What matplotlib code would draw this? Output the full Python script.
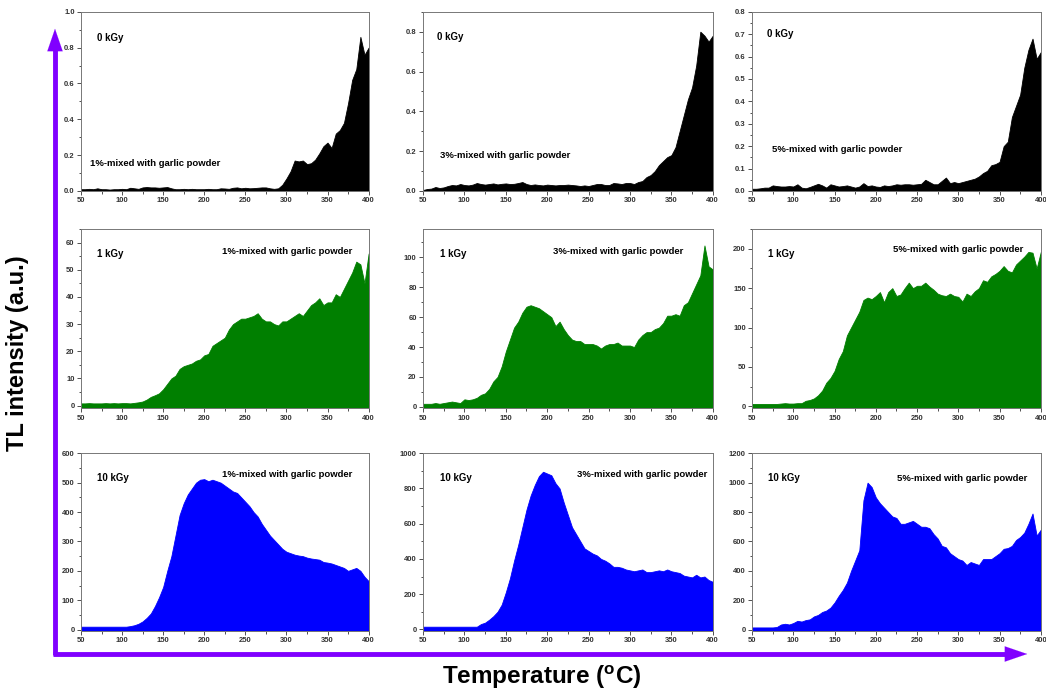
import numpy as np
import matplotlib.pyplot as plt
from matplotlib.ticker import MultipleLocator

plt.rcParams['font.family'] = ['Liberation Sans', 'DejaVu Sans']

# temperature grid (deg C)
temp = np.arange(50, 401, 5)

# 0 kGy rows
tl_0kgy_1 = [0.01, 0.01, 0.012, 0.01, 0.015, 0.01, 0.01, 0.008, 0.01, 0.01, 0.012, 0.01, 0.018, 0.015,
             0.012, 0.02, 0.022, 0.02, 0.02, 0.018, 0.02, 0.022, 0.015, 0.01, 0.01, 0.012, 0.01, 0.012,
             0.01, 0.01, 0.01, 0.012, 0.01, 0.01, 0.015, 0.014, 0.012, 0.018, 0.02, 0.015, 0.018, 0.015,
             0.016, 0.018, 0.02, 0.02, 0.015, 0.012, 0.015, 0.035, 0.07, 0.11, 0.17, 0.165, 0.17, 0.15,
             0.155, 0.175, 0.21, 0.25, 0.27, 0.24, 0.32, 0.34, 0.38, 0.49, 0.62, 0.68, 0.86, 0.76, 0.8]
tl_0kgy_3 = [0.005, 0.01, 0.012, 0.02, 0.015, 0.018, 0.025, 0.03, 0.028, 0.035, 0.03, 0.028, 0.032, 0.04,
             0.035, 0.032, 0.035, 0.038, 0.033, 0.036, 0.038, 0.035, 0.036, 0.04, 0.045, 0.035, 0.03, 0.033,
             0.03, 0.028, 0.032, 0.03, 0.028, 0.03, 0.03, 0.032, 0.03, 0.028, 0.025, 0.028, 0.025, 0.03,
             0.035, 0.035, 0.03, 0.03, 0.04, 0.038, 0.035, 0.04, 0.04, 0.035, 0.045, 0.05, 0.07, 0.08,
             0.1, 0.13, 0.15, 0.17, 0.18, 0.22, 0.3, 0.38, 0.46, 0.52, 0.63, 0.8, 0.78, 0.75, 0.78]
tl_0kgy_5 = [0.01, 0.01, 0.012, 0.015, 0.015, 0.025, 0.022, 0.02, 0.02, 0.022, 0.02, 0.03, 0.015, 0.012,
             0.018, 0.025, 0.032, 0.025, 0.015, 0.03, 0.025, 0.02, 0.022, 0.025, 0.02, 0.015, 0.02, 0.035,
             0.022, 0.025, 0.02, 0.018, 0.025, 0.022, 0.025, 0.03, 0.028, 0.03, 0.03, 0.028, 0.03, 0.032,
             0.05, 0.04, 0.03, 0.03, 0.045, 0.06, 0.035, 0.04, 0.035, 0.04, 0.045, 0.05, 0.055, 0.065,
             0.08, 0.09, 0.115, 0.12, 0.13, 0.2, 0.22, 0.33, 0.38, 0.43, 0.55, 0.63, 0.68, 0.59, 0.62]

# 1 kGy rows
tl_1kgy_1 = [0.8, 0.8, 0.9, 0.8, 0.8, 0.8, 0.9, 0.8, 0.9, 0.8, 0.9, 0.9, 0.8, 1.0, 1.2, 1.5, 2.2, 3.2,
             3.8, 4.5, 6.0, 8.0, 10, 11, 13.5, 14.5, 15, 15.5, 16.5, 17, 18.5, 19, 22, 23, 24, 25, 28, 30,
             31, 32, 32, 32.5, 33, 34, 32, 31, 31, 30, 29.5, 31, 31, 32, 33, 34, 33, 35, 37, 38, 39.5, 37,
             38, 38, 41, 40, 43, 46, 49, 53, 52, 45, 56]
tl_1kgy_3 = [2, 2, 2, 2.5, 2, 2.5, 3, 3.5, 3, 2.5, 5, 4.5, 5, 6, 8, 9, 12, 17, 20, 27, 37, 45, 53, 57,
             63, 67, 68, 67, 66, 64, 62, 60, 54, 57, 52, 48, 45, 44, 44, 42, 42, 42, 41, 39, 41, 42, 42,
             43, 41, 41, 41, 40, 45, 48, 50, 50, 52, 53, 56, 61, 61, 62, 61, 68, 70, 76, 82, 88, 108, 94, 92]
tl_1kgy_5 = [3, 3, 3, 3, 3, 3, 3, 3.5, 4, 3.5, 3.5, 4, 4, 7, 8, 10, 14, 20, 30, 36, 45, 60, 70, 90, 100,
             110, 120, 135, 138, 136, 140, 145, 132, 145, 150, 140, 142, 150, 157, 150, 153, 153, 157,
             152, 148, 143, 141, 140, 143, 140, 139, 133, 143, 140, 146, 150, 160, 158, 165, 168, 172,
             178, 172, 170, 180, 185, 190, 196, 195, 175, 196]

# 10 kGy rows
tl_10kgy_1 = [10, 10, 10, 10, 10, 10, 10, 10, 10, 10, 10, 10, 12, 15, 20, 28, 40, 55, 80, 110, 145, 200,
              250, 320, 390, 430, 460, 480, 500, 510, 512, 505, 510, 505, 500, 490, 480, 470, 465, 450,
              435, 420, 400, 385, 360, 340, 320, 305, 290, 275, 265, 260, 255, 252, 250, 245, 242, 240,
              238, 230, 228, 225, 220, 215, 210, 200, 205, 210, 200, 180, 165]
tl_10kgy_3 = [15, 15, 15, 15, 15, 15, 15, 15, 15, 15, 15, 15, 15, 15, 30, 38, 55, 75, 100, 140, 210, 290,
              390, 480, 580, 680, 760, 820, 870, 895, 885, 875, 830, 800, 720, 650, 580, 540, 500, 460,
              445, 430, 420, 400, 390, 375, 355, 355, 350, 340, 335, 330, 335, 340, 325, 325, 330, 335,
              330, 340, 330, 325, 320, 305, 300, 295, 310, 295, 300, 280, 270]
tl_10kgy_5 = [15, 15, 15, 15, 15, 15, 18, 35, 40, 35, 45, 60, 55, 65, 70, 90, 100, 120, 130, 150, 185,
              230, 270, 320, 400, 470, 540, 880, 1000, 970, 900, 860, 830, 800, 770, 760, 720, 720, 730,
              740, 720, 700, 700, 690, 650, 620, 570, 560, 520, 500, 480, 470, 440, 460, 450, 440, 480,
              480, 480, 500, 520, 550, 555, 570, 610, 630, 660, 720, 790, 640, 680]

series = [[tl_0kgy_1, tl_0kgy_3, tl_0kgy_5],
          [tl_1kgy_1, tl_1kgy_3, tl_1kgy_5],
          [tl_10kgy_1, tl_10kgy_3, tl_10kgy_5]]
doses = ['0 kGy', '1 kGy', '10 kGy']
mixes = ['1%-mixed with garlic powder', '3%-mixed with garlic powder', '5%-mixed with garlic powder']
row_colors = ['black', '#007f00', '#0000ff']

ylims = [[(0, 1.0), (0, 0.9), (0, 0.8)],
         [(-1, 65), (-1, 119), (-2.5, 225)],
         [(-5, 600), (-10, 1000), (-10, 1200)]]
yticks = [[(0.2, 0.1), (0.2, 0.1), (0.1, 0.05)],
          [(10, 5), (20, 10), (50, 25)],
          [(100, 50), (200, 100), (200, 100)]]

# label positions (axes fraction)
dose_pos = [[(0.055, 0.855), (0.048, 0.86), (0.052, 0.876)],
            [(0.055, 0.86), (0.059, 0.86), (0.055, 0.86)],
            [(0.055, 0.86), (0.059, 0.86), (0.055, 0.86)]]
mix_pos = [[(0.03, 0.156, 'left'), (0.059, 0.20, 'left'), (0.069, 0.23, 'left')],
           [(0.944, 0.877, 'right'), (0.90, 0.877, 'right'), (0.94, 0.885, 'right')],
           [(0.944, 0.88, 'right'), (0.98, 0.88, 'right'), (0.955, 0.86, 'right')]]

fig = plt.figure(figsize=(10.46, 6.92), dpi=100)

lefts = [0.0774, 0.4044, 0.719]
widths = [0.275, 0.277, 0.276]
bottoms = [0.724, 0.410, 0.088]
heights = [0.259, 0.259, 0.257]

# purple arrows on a full-figure overlay (pixel coordinates)
over = fig.add_axes([0, 0, 1, 1])
over.set_xlim(0, 1046)
over.set_ylim(692, 0)
over.axis('off')
purple = '#8000ff'
over.plot([55, 55], [655, 45], color=purple, lw=3.5, solid_capstyle='butt')
over.plot([53, 1010], [654, 654], color=purple, lw=3.5, solid_capstyle='butt')
over.annotate('', xy=(55, 26), xytext=(55, 50),
              arrowprops=dict(arrowstyle='-|>,head_length=1.6,head_width=0.55', color=purple, lw=0.1))
over.annotate('', xy=(1030, 654), xytext=(1005, 654),
              arrowprops=dict(arrowstyle='-|>,head_length=1.6,head_width=0.55', color=purple, lw=0.1))

for r in range(3):
    for c in range(3):
        ax = fig.add_axes([lefts[c], bottoms[r], widths[c], heights[r]])
        lo, hi = ylims[r][c]
        ax.fill_between(temp, series[r][c], lo, color=row_colors[r], lw=0.6)
        ax.set_xlim(50, 400)
        ax.set_ylim(lo, hi)
        ax.xaxis.set_major_locator(MultipleLocator(50))
        ax.xaxis.set_minor_locator(MultipleLocator(25))
        ax.yaxis.set_major_locator(MultipleLocator(yticks[r][c][0]))
        ax.yaxis.set_minor_locator(MultipleLocator(yticks[r][c][1]))
        ax.tick_params(which='both', direction='out', labelsize=5.5, colors='#333333',
                       width=0.6, pad=1.5)
        ax.tick_params(which='major', length=3)
        ax.tick_params(which='minor', length=1.8)
        for lab in ax.get_xticklabels() + ax.get_yticklabels():
            lab.set_fontweight('bold')
        for sp in ax.spines.values():
            sp.set_color('#777777')
            sp.set_linewidth(0.7)
        dx, dy = dose_pos[r][c]
        ax.text(dx, dy, doses[r], transform=ax.transAxes, fontsize=7, fontweight='bold',
                ha='left', va='center')
        mx, my, ha = mix_pos[r][c]
        ax.text(mx, my, mixes[c], transform=ax.transAxes, fontsize=6.8, fontweight='bold',
                ha=ha, va='center')

fig.text(0.017, 0.49, 'TL intensity (a.u.)', rotation=90, ha='center', va='center',
         fontsize=17, fontweight='bold')
fig.text(0.518, 0.021, r'Temperature ($^{\mathregular{o}}$C)', ha='center', va='center',
         fontsize=17.5, fontweight='bold')

fig.savefig('out.png', dpi=100)
